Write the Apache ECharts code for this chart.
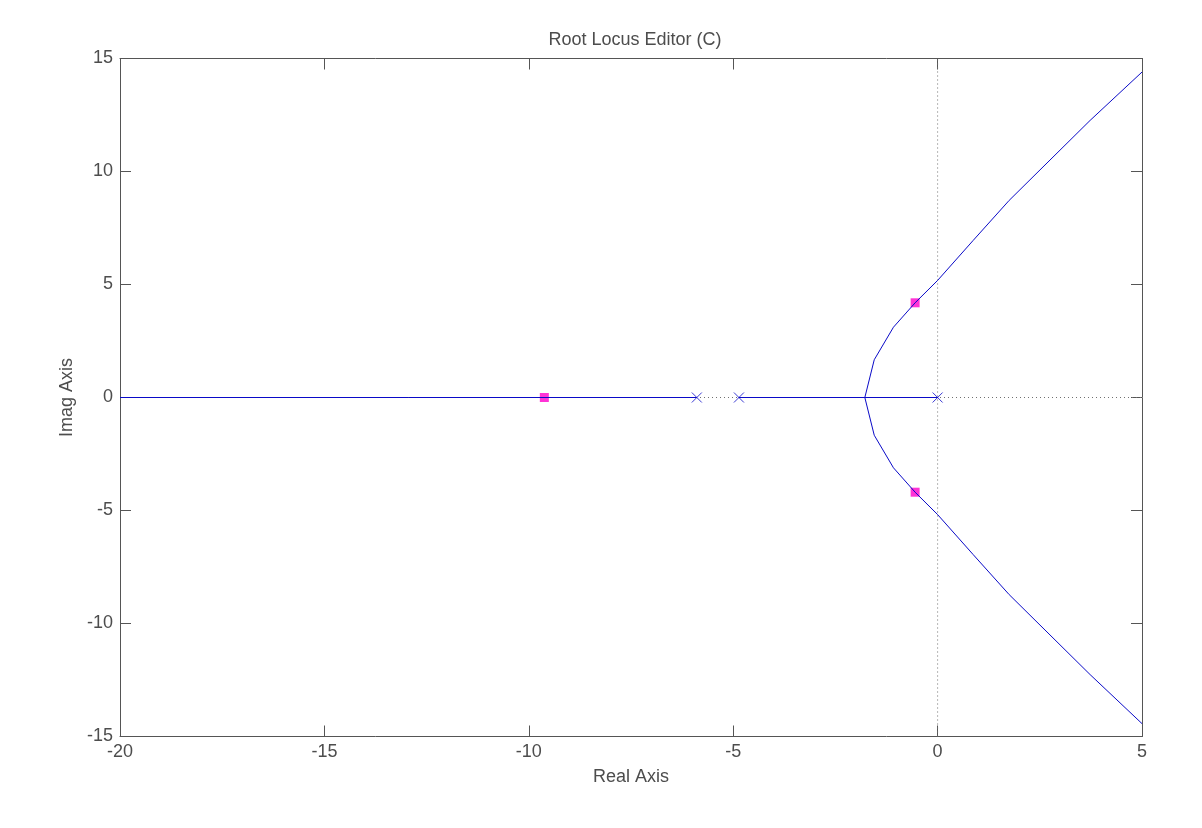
<!DOCTYPE html>
<html>
<head>
<meta charset="utf-8">
<script src="https://cdn.jsdelivr.net/npm/echarts@6/dist/echarts.min.js"></script>
<style>
html,body{margin:0;padding:0;background:#fff;}
#chart{width:1202px;height:828px;}
</style>
</head>
<body>
<div id="chart"></div>
<script>
// Open-loop poles (blue x)
const openLoopPoles = [[0, 0], [-4.86, 0], [-5.89, 0]];
// Closed-loop poles (magenta squares)
const closedLoopPoles = [[-9.62, 0], [-0.55, 4.19], [-0.55, -4.19]];
// Root locus branches on the real axis
const realBranchLeft = [[-20, 0], [-5.89, 0]];
const realBranchMid = [[-4.86, 0], [0, 0]];
// Complex branches
const upperBranch = [[-1.78, 0], [-1.55, 1.67], [-1.08, 3.11], [-0.55, 4.19], [0, 5.18], [0.87, 6.95], [1.75, 8.72], [3.73, 12.26], [5, 14.4]];
const lowerBranch = [[-1.78, 0], [-1.55, -1.67], [-1.08, -3.11], [-0.55, -4.19], [0, -5.18], [0.87, -6.95], [1.75, -8.72], [3.73, -12.26], [5, -14.43]];
// Reference (dotted) axes lines
const realRefLine = [[-20, 0], [5, 0]];
const imagRefLine = [[0, -15], [0, 15]];
// Axis ranges
const xRange = [-20, 5];
const yRange = [-15, 15];
const tickStep = 5;

const chart = echarts.init(document.getElementById('chart'), null, {renderer: 'canvas'});
const txt = '#4d4d4d';
const axisCol = '#555555';
const font = 'Liberation Sans, Arial, sans-serif';
const fs = 18;
const locusColor = '#0a0ac8';

function axisCommon(extra) {
  return Object.assign({
    type: 'value',
    interval: tickStep,
    splitLine: {show: false},
    axisLine: {show: true, onZero: false, lineStyle: {color: axisCol, width: 1}},
    axisTick: {show: true, inside: true, length: 11, lineStyle: {color: axisCol}},
    axisLabel: {color: txt, fontSize: fs, fontFamily: font, margin: 7}
  }, extra);
}

chart.setOption({
  animation: false,
  backgroundColor: '#ffffff',
  title: {
    text: 'Root Locus Editor (C)',
    left: 630, top: 26, textAlign: 'center',
    textStyle: {color: txt, fontSize: fs, fontWeight: 'normal', fontFamily: font}
  },
  grid: {left: 120, right: 60, top: 58.5, bottom: 91.5, containLabel: false},
  xAxis: [
    axisCommon({min: xRange[0], max: xRange[1], position: 'bottom',
      name: 'Real Axis', nameLocation: 'middle', nameGap: 32,
      nameTextStyle: {color: txt, fontSize: fs, fontFamily: font}}),
    axisCommon({min: xRange[0], max: xRange[1], position: 'top', axisLabel: {show: false}})
  ],
  yAxis: [
    axisCommon({min: yRange[0], max: yRange[1], position: 'left',
      name: 'Imag Axis', nameLocation: 'middle', nameGap: 41, nameRotate: 90,
      nameTextStyle: {color: txt, fontSize: fs, fontFamily: font}}),
    axisCommon({min: yRange[0], max: yRange[1], position: 'right', axisLabel: {show: false}})
  ],
  series: [
    {type: 'line', data: realRefLine, symbol: 'none', silent: true,
     lineStyle: {color: '#707070', width: 1, type: [1, 3]}},
    {type: 'line', data: imagRefLine, symbol: 'none', silent: true,
     lineStyle: {color: '#707070', width: 1, type: [1, 3]}},
    {type: 'line', data: realBranchLeft, symbol: 'none', lineStyle: {color: locusColor, width: 1}},
    {type: 'line', data: realBranchMid, symbol: 'none', lineStyle: {color: locusColor, width: 1}},
    {type: 'line', data: upperBranch, symbol: 'none', lineStyle: {color: locusColor, width: 1}},
    {type: 'line', data: lowerBranch, symbol: 'none', lineStyle: {color: locusColor, width: 1}},
    {type: 'scatter', data: openLoopPoles, symbol: 'path://M0,0L10,10M10,0L0,10', symbolSize: 10,
     itemStyle: {color: 'rgba(0,0,0,0)', borderColor: locusColor, borderWidth: 1}},
    {type: 'scatter', data: closedLoopPoles, symbol: 'rect', symbolSize: 9,
     itemStyle: {color: '#ff00cc'}}
  ]
});
</script>
</body>
</html>
